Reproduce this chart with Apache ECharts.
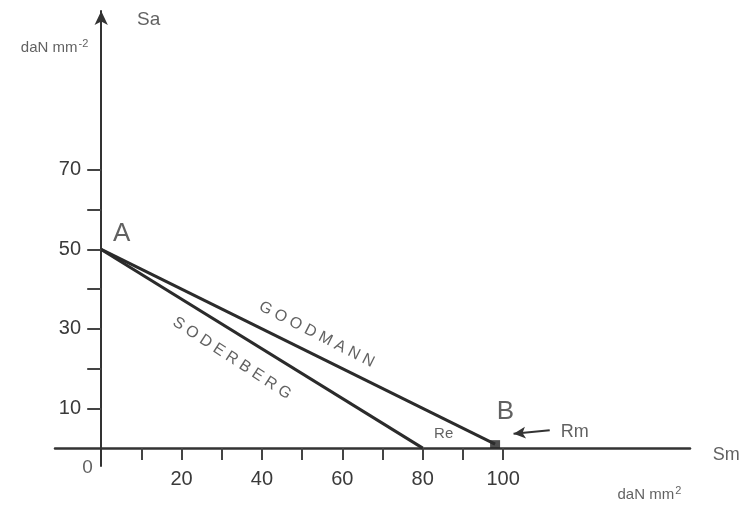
<!DOCTYPE html>
<html>
<head>
<meta charset="utf-8">
<script src="https://cdn.jsdelivr.net/npm/echarts@6/dist/echarts.min.js"></script>
<style>
html,body{margin:0;padding:0;background:#fff;}
#chart{width:739px;height:506px;}
</style>
</head>
<body>
<div id="chart"></div>
<script>
// ---- data ----
const goodmanLine = [[0, 50], [98, 1]];      // A -> B (Rm)
const soderbergLine = [[0, 50], [80, 0]];    // A -> Re
const pointB = [[98, 1]];
const xTickValues = [10, 20, 30, 40, 50, 60, 70, 80, 90, 100];
const xLabelValues = [20, 40, 60, 80, 100];
const yTickValues = [10, 20, 30, 40, 50, 60, 70];
const yLabelValues = [10, 30, 50, 70];
const rmArrow = [[111.6, 4.5], [102.6, 3.6]];
const annotations = [
  { name: 'Sa', value: [11.8, 107.8], size: 19 },
  { name: 'daNmm-2', value: [-11.6, 100.8], size: 15 },
  { name: 'A', value: [5.1, 53.8], size: 26 },
  { name: 'B', value: [100.6, 9.2], size: 26 },
  { name: 'Re', value: [85.2, 3.5], size: 15 },
  { name: 'Rm', value: [117.8, 4.0], size: 18 },
  { name: 'Sm', value: [155.5, -1.8], size: 18 },
  { name: 'daNmm2', value: [136.4, -11.8], size: 15 },
  { name: '0', value: [-3.4, -5.0], size: 19 },
  { name: 'GOODMANN', value: [53.6, 28.6], size: 16, rotate: -27 },
  { name: 'SODERBERG', value: [32.5, 22.6], size: 16, rotate: -33 }
];

const FONT = '"Liberation Sans", Arial, sans-serif';
const TXT = '#3a3a3a';

const chart = echarts.init(document.getElementById('chart'), null, { renderer: 'canvas' });

function labelText(name) {
  if (name === 'daNmm-2') return 'daN mm{sup|-2}';
  if (name === 'daNmm2') return 'daN mm{sup|2}';
  if (name === 'GOODMANN') return 'G O O D M A N N';
  if (name === 'SODERBERG') return 'S O D E R B E R G';
  return name;
}

const option = {
  backgroundColor: '#ffffff',
  animation: false,
  grid: { left: 55, width: 635, top: 11, height: 455, containLabel: false },
  xAxis: {
    type: 'value', min: -11.5, max: 146.5,
    axisLine: { show: true, onZero: true, lineStyle: { color: '#333', width: 2.5 } },
    axisTick: { show: true, inside: false, length: 12, customValues: xTickValues, lineStyle: { color: '#444', width: 2 } },
    axisLabel: { show: true, margin: 3, customValues: xLabelValues, color: TXT, fontSize: 20, fontFamily: FONT },
    splitLine: { show: false }
  },
  yAxis: {
    type: 'value', min: -4.5, max: 110,
    axisLine: { show: true, onZero: true, symbol: ['none', 'arrow'], symbolSize: [10, 14], lineStyle: { color: '#333', width: 2 } },
    axisTick: { show: true, inside: false, length: 14, customValues: yTickValues, lineStyle: { color: '#444', width: 2 } },
    axisLabel: { show: true, margin: -26, customValues: yLabelValues, color: TXT, fontSize: 20, fontFamily: FONT },
    splitLine: { show: false }
  },
  series: [
    {
      name: 'Goodmann', type: 'line', data: goodmanLine, symbol: 'none',
      lineStyle: { color: '#2b2b2b', width: 3 }
    },
    {
      name: 'Soderberg', type: 'line', data: soderbergLine, symbol: 'none',
      lineStyle: { color: '#2b2b2b', width: 3 }
    },
    {
      name: 'B', type: 'scatter', data: pointB, symbol: 'rect', symbolSize: [10, 8],
      itemStyle: { color: '#222' }
    },
    {
      name: 'Rm arrow', type: 'line', data: [], symbol: 'none',
      markLine: {
        silent: true, symbol: ['none', 'arrow'], symbolSize: [9, 12],
        label: { show: false },
        lineStyle: { color: '#333', width: 2, type: 'solid' },
        data: [[{ coord: rmArrow[0] }, { coord: rmArrow[1] }]]
      }
    },
    {
      name: 'labels', type: 'scatter', symbolSize: 0, clip: false, silent: true,
      data: annotations.map(a => ({
        name: a.name, value: a.value,
        label: {
          show: true, position: 'inside', fontSize: a.size, rotate: a.rotate || 0,
          formatter: labelText(a.name),
          rich: { sup: { fontSize: 11, color: TXT, fontFamily: FONT, padding: [0, 0, 8, 1] } }
        }
      })),
      label: { color: TXT, fontFamily: FONT, align: 'center', verticalAlign: 'middle' }
    }
  ]
};
chart.setOption(option);
</script>
</body>
</html>
